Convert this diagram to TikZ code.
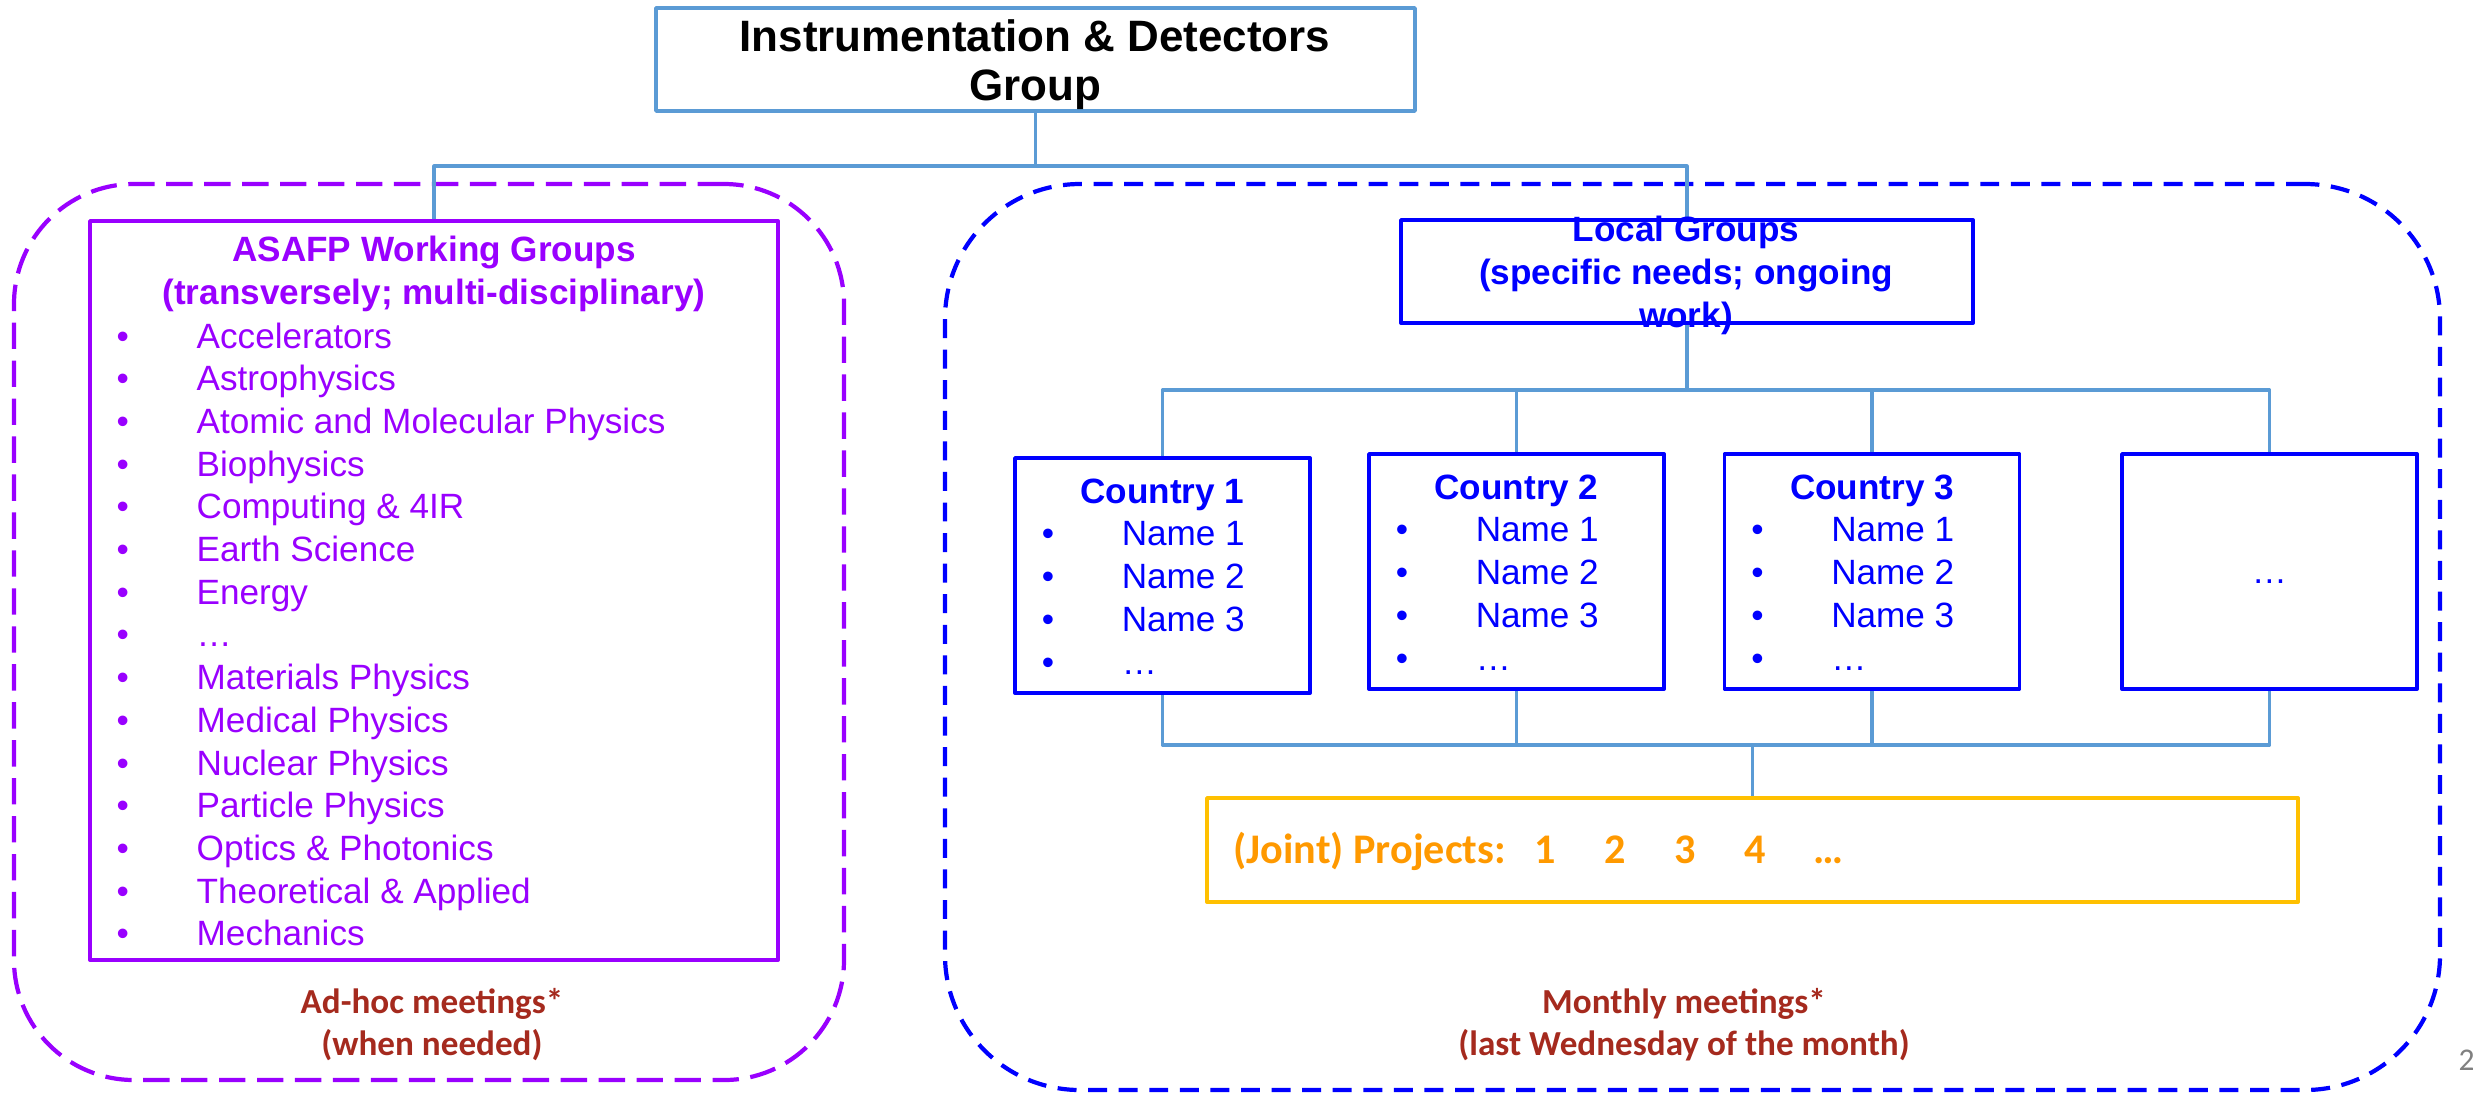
\documentclass[tikz,border=0pt]{standalone}
\usepackage{fontspec}
\setmainfont{Liberation Sans}
\newfontfamily\calibri{Carlito}
\usetikzlibrary{positioning}
\definecolor{linkblue}{RGB}{91,155,213}
\definecolor{wgpurple}{RGB}{153,0,255}
\definecolor{lgblue}{RGB}{0,0,255}
\definecolor{meetred}{RGB}{165,42,30}
\definecolor{projorange}{RGB}{255,153,0}
\definecolor{projgold}{RGB}{255,192,0}
\newcommand{\bul}[1]{\makebox[0.8cm][l]{\textbullet}#1}
\tikzset{
	link/.style={draw=linkblue, line width=0.9pt},
	box/.style={draw, line width=1.1pt, inner sep=0pt},
	region/.style={draw, line width=1.2pt, line cap=butt, inner sep=0pt},
	txt/.style={inner sep=0pt, anchor=base},
	item/.style={inner sep=0pt, anchor=base west},
	meet/.style={txt, text=meetred, font=\calibri\bfseries\fontsize{10}{11.7}\selectfont, align=center},
}
\begin{document}
\begin{tikzpicture}[font=\fontsize{10}{12}\selectfont, line join=round]
	\useasboundingbox (0,0) rectangle (24.73,-10.93);
	% dashed regions
	\node[region, draw=wgpurple, dash pattern=on 7.5pt off 3.3pt, rounded corners=1.2cm, minimum width=8.30cm, minimum height=8.96cm] (adhoc) at (4.29,-6.32) {};
	\node[region, draw=lgblue, dash pattern=on 5.4pt off 3.3pt, rounded corners=1.35cm, minimum width=14.95cm, minimum height=9.06cm] (monthly) at (16.925,-6.37) {};
	% boxes
	\node[box, draw=linkblue, line width=1pt, minimum width=7.59cm, minimum height=1.03cm] (top) at (10.355,-0.595) {};
	\node[box, draw=wgpurple, minimum width=6.88cm, minimum height=7.39cm] (wg) at (4.34,-5.905) {};
	\node[box, draw=lgblue, minimum width=5.72cm, minimum height=1.03cm] (local) at (16.87,-2.715) {};
	\foreach \n/\x/\y in {1/11.625/-5.755, 2/15.165/-5.715, 3/18.72/-5.715, 4/22.695/-5.715}
		\node[box, draw=lgblue, minimum width=2.95cm, minimum height=2.35cm] (c\n) at (\x,\y) {};
	\node[box, draw=projgold, minimum width=10.91cm, minimum height=1.04cm] (joint) at (17.525,-8.50) {};
	% connectors
	\coordinate (topbus) at (10.355,-1.66);
	\draw[link] (top.south) -- (topbus) -| (wg.north);
	\draw[link] (topbus) -| (local.north);
	\coordinate (midbus) at (16.87,-3.90);
	\foreach \n in {1,...,4}
		\draw[link] (local.south) -- (midbus) -| (c\n.north);
	\coordinate (lowbus) at (17.525,-7.45);
	\foreach \n in {1,...,4}
		\draw[link] (c\n.south) |- (lowbus) -- (joint.north);
	% texts (base = last line)
	\node[txt, font=\bfseries\fontsize{12.5}{13.7}\selectfont, align=center] (toptext) at (10.35,-1.00) {Instrumentation \& Detectors\\Group};
	\node[txt, text=wgpurple, font=\bfseries, align=center] (wgtitle) at (4.34,-3.04) {ASAFP Working Groups\\(transversely; multi-disciplinary)};
	\foreach \t [count=\i] in {Accelerators, Astrophysics, Atomic and Molecular Physics, Biophysics, Computing \& 4IR, Earth Science, Energy, …, Materials Physics, Medical Physics, Nuclear Physics, Particle Physics, Optics \& Photonics, Theoretical \& Applied, Mechanics}
		\node[item, text=wgpurple] (wg\i) at (1.16,{-3.48-0.427*(\i-1)}) {\bul{\t}};
	\node[txt, text=lgblue, font=\bfseries\fontsize{10}{12.2}\selectfont, align=center] (localtext) at (16.86,-3.27) {Local Groups\\(specific needs; ongoing\\work)};
	\foreach \n in {1,2,3}{
		\node[txt, text=lgblue, font=\bfseries] (c\n-title) at ([yshift=-0.47cm]c\n.north) {Country \n};
		\foreach \m/\t in {1/Name 1, 2/Name 2, 3/Name 3, 4/…}
			\node[item, text=lgblue] (c\n-name\m) at ([xshift=0.28cm, yshift={-0.89cm-0.43cm*(\m-1)}]c\n.north west) {\bul{\t}};
	}
	\node[txt, text=lgblue] (c4-dots) at ([yshift=-0.115cm]c4.center) {…};
	\node[item, text=projorange, font=\calibri\bfseries\fontsize{12}{14}\selectfont] (jointtext) at (12.33,-8.63) {(Joint) Projects:\hspace{8.3pt}1\hspace{13.8pt}2\hspace{13.8pt}3\hspace{13.8pt}4\hspace{13.4pt}…};
	\node[meet] (adhoctext) at (4.32,-10.55) {Ad-hoc meetings*\\(when needed)};
	\node[meet] (monthlytext) at (16.84,-10.55) {Monthly meetings*\\(last Wednesday of the month)};
	\node[item, text=gray, font=\calibri\fontsize{9}{10}\selectfont] (pagenum) at (24.58,-10.70) {2};
\end{tikzpicture}
\end{document}
